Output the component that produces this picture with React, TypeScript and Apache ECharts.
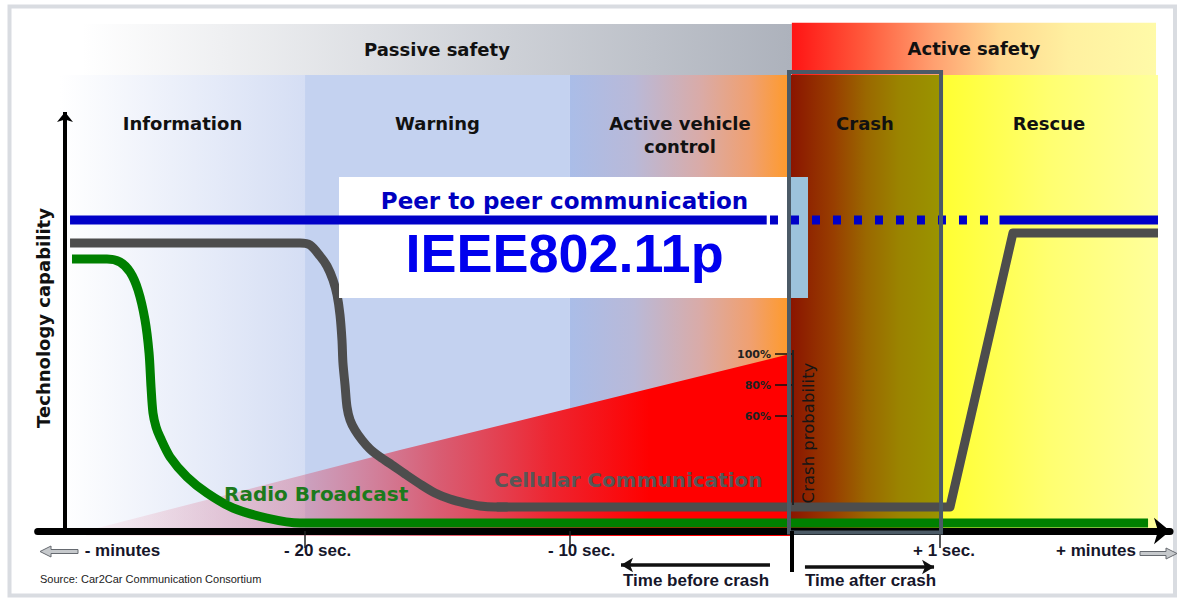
import React, { useEffect, useRef } from "react";
import * as echarts from "echarts";

// x: schematic time position (0 = technology axis), y: technology capability (0 = time axis)
const zoneNames = ["Information", "Warning", "Active vehicle\ncontrol", "Crash", "Rescue"];
const zoneEdges = [-0.46, 21.96, 46.2, 66.33, 80.05, 100];
const zoneTop = 89.94;

const bandNames = ["Passive safety", "Active safety"];
const bandEdges = [1.56, 66.5, 99.82];
const bandTops = [100, 100.26];

const peerSolidA = [[0.46, 61.34], [64.2, 61.34]];
const peerDotted = [[64.5, 61.34], [85.5, 61.34]];
const peerSolidB = [[85.5, 61.34], [100, 61.34]];

// Cellular communication: decline before the crash (smooth part) ...
const cellularDecline = [
  [0.46, 56.8], [21.5, 56.8], [22.42, 56.41], [23.33, 54.24], [23.97, 52.27], [24.52, 49.51],
  [24.89, 46.55], [25.16, 42.6], [25.34, 37.67], [25.43, 33.14], [25.62, 28.8], [25.8, 24.46],
  [26.08, 21.89], [26.53, 19.92], [27.17, 17.95], [27.9, 16.17], [28.82, 14.6], [29.92, 13.02],
  [31.11, 11.24], [32.48, 9.27], [33.85, 7.5], [35.22, 6.31], [36.6, 5.52], [37.97, 4.93],
  [39.34, 4.73], [40.5, 4.73],
];
// ... and recovery after the crash (straight segments)
const cellularRecovery = [[39.5, 4.73], [80.97, 4.73], [86.73, 58.78], [100, 58.78]];

const radio = [
  [0.64, 53.65], [3.84, 53.65], [5.03, 53.06], [5.95, 51.08], [6.68, 47.53], [7.32, 41.62],
  [7.69, 35.11], [7.87, 28.4], [8.05, 23.27], [8.33, 20.51], [8.69, 18.54], [9.61, 14.6], [11.16, 10.65],
  [12.99, 7.5], [15.37, 4.54], [18.48, 2.56], [21.5, 1.58], [99.09, 1.58],
];

const crashProbability = [[1.92, 0], [30.65, 15.98], [66.33, 34.91]];
const crashProbTicks = [60, 80, 100];

const peerBox = [25.07, 69.82, 66.33, 45.96];
const peerStrip = [66.33, 69.82, 67.98, 45.96];
const crashBox = [66.24, 90.53, 80.15, -0.3];

const timeTickValues = [21.96, 46.2, 80.05];
const timeLabelValues = [5.26, 23.11, 47.26, 80.42, 94.33];
const timeLabels = ["- minutes", "- 20 sec.", "- 10 sec.", "+ 1 sec.", "+ minutes"];

const grad = (stops: [number, string][]) =>
  new echarts.graphic.LinearGradient(0, 0, 1, 0, stops.map(([offset, color]) => ({ offset, color })));

const zoneColors = [
  grad([[0, "#ffffff"], [1, "#d5def4"]]),
  grad([[0, "#c4d2f0"], [1, "#c4d2f0"]]),
  grad([[0, "#aabde8"], [0.29, "#b9b9d8"], [0.59, "#d9aba8"], [0.82, "#f0a070"], [1, "#ff9a28"]]),
  grad([[0, "#8a1400"], [0.29, "#983e00"], [0.51, "#9a6800"], [0.73, "#9a8400"], [1, "#9a9400"]]),
  grad([[0, "#ffff30"], [0.5, "#ffff70"], [1, "#ffff9c"]]),
];
const bandColors = [
  grad([[0, "#ffffff"], [1, "#adb2bc"]]),
  grad([[0, "#ff1414"], [0.2, "#ff5a3c"], [0.39, "#ffa070"], [0.57, "#ffd890"], [0.76, "#fff0a0"], [1, "#fffaa8"]]),
];

const boldDV = { fontFamily: "DejaVu Sans", fontWeight: "bold" as const };

export default function App() {
  const ref = useRef<HTMLDivElement>(null);
  useEffect(() => {
    if (!ref.current) return;
    const chart = echarts.init(ref.current, null, { renderer: "svg" });

    const zoneAreas = zoneNames.map((name, i) => [
      {
        name,
        coord: [zoneEdges[i], zoneTop],
        itemStyle: { color: zoneColors[i] },
        label: {
          show: true, position: "insideTop", distance: 37, ...boldDV, fontSize: 18,
          lineHeight: 23, color: "#111", align: "center",
        },
      },
      { coord: [zoneEdges[i + 1], 0] },
    ]);
    const bandAreas = bandNames.map((name, i) => [
      {
        name,
        coord: [bandEdges[i], bandTops[i]],
        itemStyle: { color: bandColors[i] },
        label: { show: true, position: "inside", ...boldDV, fontSize: 18, color: "#111" },
      },
      { coord: [bandEdges[i + 1], zoneTop] },
    ]);

    const lineEnd = (c: number[], extra: any = {}) => ({ coord: c, ...extra });
    const blk = (w: number, color = "#000") => ({ color, width: w, type: "solid" as const });
    const grayStyle = { width: 9, color: "#4d4d4d", cap: "butt", join: "round" };

    const option: any = {
      animation: false,
      textStyle: { fontFamily: "Liberation Sans" },
      grid: {
        left: 37.675, right: 7.98, top: 21.97, bottom: 17.3,
        containLabel: false, outerBoundsMode: "none",
      },
      xAxis: {
        type: "value", min: -2.5, max: 101.1, z: 10,
        axisLine: {
          show: true, onZero: true, onZeroAxisIndex: 0,
          lineStyle: { color: "#000", width: 7 },
          symbol: ["none", "arrow"], symbolSize: [20, 16],
        },
        axisTick: { show: true, customValues: timeTickValues, length: 17, lineStyle: { color: "#222", width: 1.5 } },
        axisLabel: {
          show: true, customValues: timeLabelValues, margin: -40,
          fontFamily: "Liberation Sans", fontWeight: "bold", fontSize: 17, color: "#16162a",
          formatter: (v: number) => {
            const i = timeLabelValues.findIndex((t) => Math.abs(t - v) < 0.01);
            return i >= 0 ? timeLabels[i] : "";
          },
        },
        splitLine: { show: false },
      },
      yAxis: [
        {
          type: "value", min: -10, max: 100.4,
          axisLine: { show: false }, axisTick: { show: false }, axisLabel: { show: false }, splitLine: { show: false },
        },
        {
          type: "value", position: "right", offset: -377.02, min: -46.9, max: 314.21, z: 10,
          axisLine: { show: false, onZero: false },
          axisTick: { show: true, inside: true, length: 18, customValues: crashProbTicks, lineStyle: { color: "#111", width: 1.5 } },
          axisLabel: {
            show: true, inside: true, margin: 22, customValues: crashProbTicks, formatter: "{value}%",
            ...boldDV, fontSize: 11, color: "#222",
          },
          splitLine: { show: false },
        },
      ],
      visualMap: [
        {
          type: "piecewise", show: false, seriesIndex: 2, dimension: 0,
          pieces: [{ lt: 66.4, color: "#008000" }, { gte: 66.4, lte: 80.1, color: "#005f00" }, { gt: 80.1, color: "#008000" }],
        },
        {
          type: "piecewise", show: false, seriesIndex: 4, dimension: 0,
          pieces: [{ lt: 66.4, color: "#4d4d4d" }, { gte: 66.4, lte: 80.1, color: "#2f3a43" }, { gt: 80.1, color: "#4d4d4d" }],
        },
      ],
      series: [
        {
          type: "line", name: "zones", data: [[0, 0]], symbol: "none", lineStyle: { width: 0, opacity: 0 },
          clip: false, silent: true, z: 1,
          markArea: { silent: true, z: 1, data: [...zoneAreas, ...bandAreas] },
        },
        {
          type: "line", name: "Crash probability", data: crashProbability, symbol: "none", clip: false, z: 2,
          lineStyle: { width: 0, opacity: 0 }, silent: true,
          areaStyle: {
            origin: -0.99, opacity: 1,
            color: grad([
              [0, "rgba(225,80,110,0.04)"], [0.3, "rgba(215,80,110,0.35)"], [0.5, "rgba(222,60,80,0.78)"],
              [0.66, "rgba(240,30,40,0.96)"], [0.8, "#ff0000"], [1, "#ff0000"],
            ]),
          },
        },
        {
          type: "line", name: "Radio Broadcast", data: radio, symbol: "none", clip: false, z: 3, silent: true,
          smooth: 0.3,
          lineStyle: { width: 9, color: "#008000", cap: "butt", join: "round" },
        },
        {
          type: "line", name: "Cellular Communication", data: cellularDecline, symbol: "none", clip: false, z: 3, silent: true,
          smooth: 0.3,
          lineStyle: grayStyle,
        },
        {
          type: "line", name: "Cellular Communication (after)", data: cellularRecovery, symbol: "none", clip: false, z: 3, silent: true,
          lineStyle: grayStyle,
        },
        {
          type: "line", name: "box", data: [[0, 0]], symbol: "none", lineStyle: { width: 0, opacity: 0 },
          clip: false, silent: true, z: 4,
          markArea: {
            silent: true, z: 4,
            data: [
              [
                {
                  name: "IEEE802.11p", coord: [peerBox[0], peerBox[1]], itemStyle: { color: "#ffffff" },
                  label: {
                    show: true, position: "inside",
                    formatter: "{a|Peer to peer communication}\n{b|IEEE802.11p}",
                    rich: {
                      a: { ...boldDV, fontSize: 23, color: "#0000c0", lineHeight: 31 },
                      b: { fontFamily: "Liberation Sans", fontWeight: "bold", fontSize: 54, color: "#0000ee", lineHeight: 73 },
                    },
                  },
                },
                { coord: [peerBox[2], peerBox[3]] },
              ],
              [
                { name: "strip", coord: [peerStrip[0], peerStrip[1]], itemStyle: { color: "#9cc3dc" }, label: { show: false } },
                { coord: [peerStrip[2], peerStrip[3]] },
              ],
            ],
          },
        },
        {
          type: "line", name: "Peer to peer communication", data: peerSolidA, symbol: "none", clip: false, z: 5, silent: true,
          lineStyle: { width: 9, color: "#0000c8", cap: "butt" },
        },
        {
          type: "line", name: "Peer to peer (crash)", data: peerDotted, symbol: "none", clip: false, z: 5, silent: true,
          lineStyle: { width: 9, color: "#0000c8", type: [8, 13], cap: "butt" },
        },
        {
          type: "line", name: "Peer to peer (after)", data: peerSolidB, symbol: "none", clip: false, z: 5, silent: true,
          lineStyle: { width: 9, color: "#0000c8", cap: "butt" },
        },
        {
          type: "line", name: "annotations", data: [[0, 0]], symbol: "none", lineStyle: { width: 0, opacity: 0 },
          clip: false, silent: true, z: 11,
          markArea: {
            silent: true, z: 11,
            data: [[
              {
                name: "crash box", coord: [crashBox[0], crashBox[1]], label: { show: false },
                itemStyle: { color: "rgba(0,0,0,0)", borderColor: "#4b5a66", borderWidth: 4 },
              },
              { coord: [crashBox[2], crashBox[3]] },
            ]],
          },
          markLine: {
            silent: true, z: 12, symbol: ["none", "none"], label: { show: false },
            data: [
              [lineEnd([0, 0], { lineStyle: blk(4) }), lineEnd([0, 82.64], { symbol: "arrow", symbolSize: [12, 10], lineStyle: blk(4) })],
              [lineEnd([66.52, 0], { lineStyle: blk(4) }), lineEnd([66.52, -8.09], { lineStyle: blk(4) })],
              [lineEnd([64.5, -6.71], { lineStyle: blk(3.5, "#111") }), lineEnd([50.87, -6.71], { symbol: "arrow", symbolSize: [11, 12], lineStyle: blk(3.5, "#111") })],
              [lineEnd([67.7, -7.1], { lineStyle: blk(3.5, "#111") }), lineEnd([79.51, -7.1], { symbol: "arrow", symbolSize: [11, 12], lineStyle: blk(3.5, "#111") })],
              [lineEnd([66.61, 5.13], { lineStyle: blk(2, "#222") }), lineEnd([66.61, 35.7], { lineStyle: blk(2, "#222") })],
            ],
          },
        },
      ],
      graphic: {
        elements: [
          {
            type: "rect", z: 0, silent: true,
            shape: { x: 9.5, y: 6.5, width: 1165.5, height: 589 },
            style: { fill: "none", stroke: "#d9dce1", lineWidth: 4 },
          },
          {
            type: "text", x: 43, y: 318, rotation: Math.PI / 2, z: 20, silent: true,
            style: { text: "Technology capability", ...boldDV, fontSize: 18, fill: "#111", align: "center", verticalAlign: "middle", textAlign: "center", textVerticalAlign: "middle" },
          },
          {
            type: "text", x: 808, y: 433, rotation: Math.PI / 2, z: 20, silent: true,
            style: { text: "Crash probability", fontFamily: "DejaVu Sans", fontSize: 16.5, fill: "#151515", align: "center", verticalAlign: "middle", textAlign: "center", textVerticalAlign: "middle" },
          },
          {
            type: "text", x: 224, y: 494, z: 20, silent: true,
            style: { text: "Radio Broadcast", ...boldDV, fontSize: 20, fill: "#1c7a1c", align: "left", verticalAlign: "middle", textAlign: "left", textVerticalAlign: "middle" },
          },
          {
            type: "text", x: 494, y: 480, z: 20, silent: true,
            style: { text: "Cellular Communication", ...boldDV, fontSize: 20, fill: "#575757", align: "left", verticalAlign: "middle", textAlign: "left", textVerticalAlign: "middle" },
          },
          {
            type: "text", x: 40, y: 579, z: 20, silent: true,
            style: { text: "Source: Car2Car Communication Consortium", fontFamily: "Liberation Sans", fontSize: 11, fill: "#222", align: "left", verticalAlign: "middle", textAlign: "left", textVerticalAlign: "middle" },
          },
          {
            type: "text", x: 623, y: 580, z: 20, silent: true,
            style: { text: "Time before crash", fontFamily: "Liberation Sans", fontWeight: "bold", fontSize: 17, fill: "#16162a", align: "left", verticalAlign: "middle", textAlign: "left", textVerticalAlign: "middle" },
          },
          {
            type: "text", x: 805, y: 580, z: 20, silent: true,
            style: { text: "Time after crash", fontFamily: "Liberation Sans", fontWeight: "bold", fontSize: 17, fill: "#16162a", align: "left", verticalAlign: "middle", textAlign: "left", textVerticalAlign: "middle" },
          },
          {
            type: "polygon", z: 20, silent: true,
            shape: { points: [[40, 551.5], [51, 546], [51, 549.5], [78, 549.5], [78, 553.5], [51, 553.5], [51, 557]] },
            style: { fill: "#c6c9cc", stroke: "#666a70", lineWidth: 1 },
          },
          {
            type: "polygon", z: 20, silent: true,
            shape: { points: [[1177, 553.5], [1166, 548], [1166, 551.5], [1140, 551.5], [1140, 555.5], [1166, 555.5], [1166, 559]] },
            style: { fill: "#c6c9cc", stroke: "#666a70", lineWidth: 1 },
          },
        ],
      },
    };
    chart.setOption(option);
    return () => chart.dispose();
  }, []);

  return (
    <div
      ref={ref}
      style={{ position: "fixed", left: 0, top: 0, width: 1178, height: 599, background: "#ffffff" }}
    />
  );
}
